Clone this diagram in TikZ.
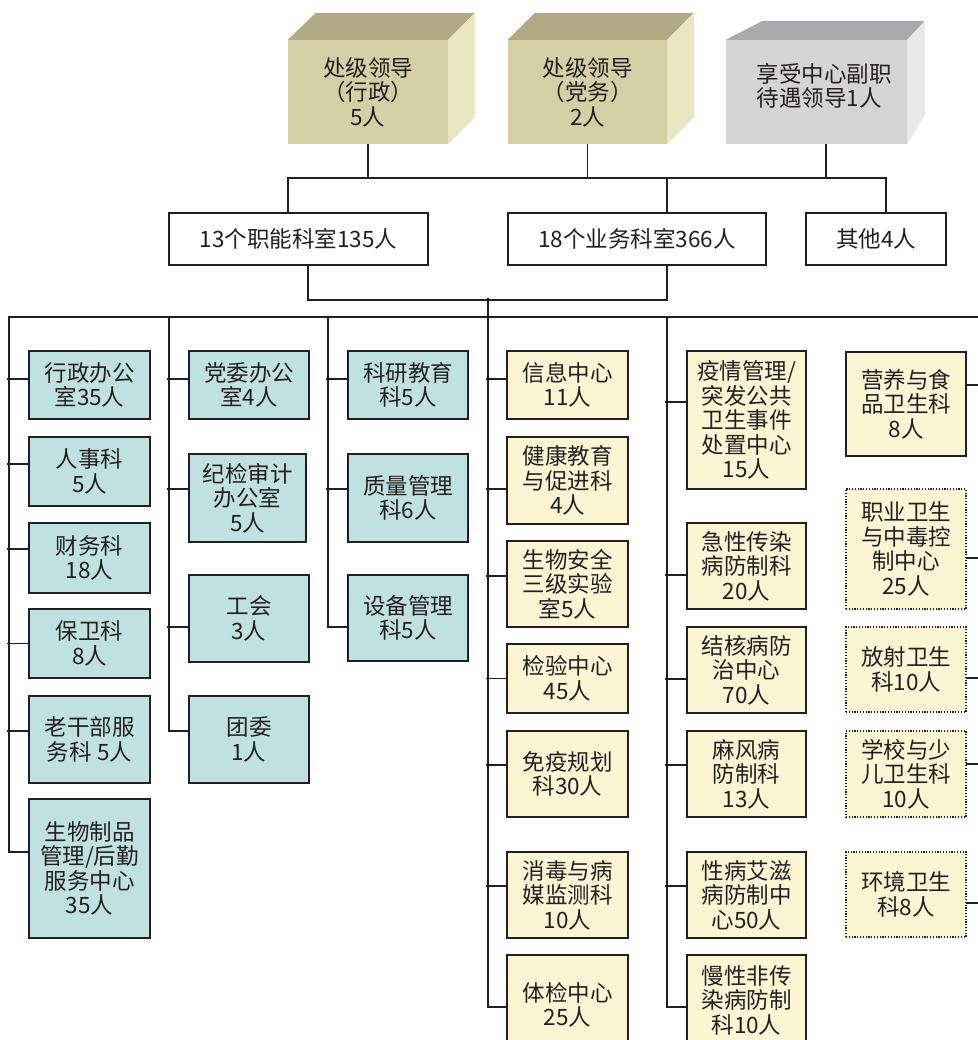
\documentclass[tikz,border=0pt]{standalone}
\usepackage{fontspec}
\setmainfont{Noto Sans CJK SC}
\usetikzlibrary{backgrounds}
\definecolor{ink}{HTML}{231F20}
\definecolor{tealf}{HTML}{BFE1E0}
\definecolor{yelf}{HTML}{FAF5D3}
\definecolor{olfront}{HTML}{D5CFA6}
\definecolor{oltop}{HTML}{B2AA85}
\definecolor{olside}{HTML}{EAE6C2}
\definecolor{grfront}{HTML}{D4D4D4}
\definecolor{grtop}{HTML}{A9AAAC}
\definecolor{grside}{HTML}{E9E9E9}
\begin{document}
\begin{tikzpicture}[x=1pt,y=-1pt,
  every node/.style={font=\fontsize{22.5}{24.5}\selectfont, text=ink, align=center, inner sep=0pt},
  tbox/.style={draw=ink, line width=2pt, fill=tealf},
  ybox/.style={draw=ink, line width=2pt, fill=yelf},
  dbox/.style={draw=ink, line width=1.4pt, dash pattern=on 1.2pt off 1.6pt, fill=yelf},
  mbox/.style={draw=ink, line width=1.6pt, fill=white},
  conn/.style={draw=ink, line width=1.8pt, line cap=rect},
]
\path[use as bounding box] (0,0) rectangle (977,1040);
\clip (0,0) rectangle (977,1040);

% ---- top 3D boxes
\node[fill=olfront, minimum width=160pt, minimum height=104pt] (t1) at (368,92) {处级领导\\（行政）\\5人};
\fill[oltop] (t1.north west) -- ++(28,-27) -- ++(159,0) -- (t1.north east) -- cycle;
\fill[olside] (t1.north east) -- ++(27,-27) -- ++(0,104) -- (t1.south east) -- cycle;

\node[fill=olfront, minimum width=159pt, minimum height=104pt] (t2) at (587.5,92) {处级领导\\（党务）\\2人};
\fill[oltop] (t2.north west) -- ++(27,-27) -- ++(159,0) -- (t2.north east) -- cycle;
\fill[olside] (t2.north east) -- ++(27,-27) -- ++(0,104) -- (t2.south east) -- cycle;

\node[fill=grfront, minimum width=181pt, minimum height=104pt] (t3) at (816.5,92) {};
\fill[grtop] (t3.north west) -- ++(37,-19) -- ++(162,0) -- (t3.north east) -- cycle;
\fill[grside] (t3.north east) -- ++(18,-19) -- ++(0,94) -- (t3.south east) -- cycle;
\node[align=left] (t3txt) at (824,86) {享受中心副职\\待遇领导1人};

% ---- second row
\node[mbox, minimum width=259pt, minimum height=52pt] (m1) at (298.5,239) {13个职能科室135人};
\node[mbox, minimum width=258pt, minimum height=52pt] (m2) at (637,239) {18个业务科室366人};
\node[mbox, minimum width=140pt, minimum height=52pt] (m3) at (876,239) {其他4人};

% ---- column 1
\node[tbox, minimum width=121pt, minimum height=68pt] (a1) at (89.5,385) {行政办公\\室35人};
\node[tbox, minimum width=121pt, minimum height=69pt] (a2) at (89.5,471.5) {人事科\\5人};
\node[tbox, minimum width=121pt, minimum height=70pt] (a3) at (89.5,558) {财务科\\18人};
\node[tbox, minimum width=121pt, minimum height=69pt] (a4) at (89.5,643.5) {保卫科\\8人};
\node[tbox, minimum width=121pt, minimum height=87pt] (a5) at (89.5,739.5) {老干部服\\务科 5人};
\node[tbox, minimum width=121pt, minimum height=139pt] (a6) at (89.5,868.5) {生物制品\\管理/后勤\\服务中心\\35人};

% ---- column 2
\node[tbox, minimum width=120pt, minimum height=68pt] (b1) at (249,385) {党委办公\\室4人};
\node[tbox, minimum width=117pt, minimum height=88pt] (b2) at (247.5,498) {纪检审计\\办公室\\5人};
\node[tbox, minimum width=120pt, minimum height=87pt] (b3) at (249,618.5) {工会\\3人};
\node[tbox, minimum width=120pt, minimum height=87pt] (b4) at (249,739.5) {团委\\1人};

% ---- column 3
\node[tbox, minimum width=120pt, minimum height=68pt] (c1) at (408,385) {科研教育\\科5人};
\node[tbox, minimum width=120pt, minimum height=88pt] (c2) at (408,498) {质量管理\\科6人};
\node[tbox, minimum width=120pt, minimum height=86pt] (c3) at (408,618) {设备管理\\科5人};

% ---- column 4
\node[ybox, minimum width=121pt, minimum height=68pt] (d1) at (567.5,385) {信息中心\\11人};
\node[ybox, minimum width=121pt, minimum height=87pt] (d2) at (567.5,480.5) {健康教育\\与促进科\\4人};
\node[ybox, minimum width=121pt, minimum height=86pt] (d3) at (567.5,584) {生物安全\\三级实验\\室5人};
\node[ybox, minimum width=121pt, minimum height=69pt] (d4) at (567.5,678.5) {检验中心\\45人};
\node[ybox, minimum width=121pt, minimum height=86pt] (d5) at (567.5,774) {免疫规划\\科30人};
\node[ybox, minimum width=121pt, minimum height=86pt] (d6) at (567.5,895) {消毒与病\\媒监测科\\10人};
\node[ybox, minimum width=121pt, minimum height=100pt] (d7) at (567.5,1005) {体检中心\\25人};

% ---- column 5
\node[ybox, minimum width=119pt, minimum height=138pt] (e1) at (746.5,420) {疫情管理/\\突发公共\\卫生事件\\处置中心\\15人};
\node[ybox, minimum width=119pt, minimum height=86pt] (e2) at (746.5,566) {急性传染\\病防制科\\20人};
\node[ybox, minimum width=119pt, minimum height=86pt] (e3) at (746.5,670) {结核病防\\治中心\\70人};
\node[ybox, minimum width=119pt, minimum height=86pt] (e4) at (746.5,774) {麻风病\\防制科\\13人};
\node[ybox, minimum width=119pt, minimum height=86pt] (e5) at (746.5,895) {性病艾滋\\病防制中\\心50人};
\node[ybox, minimum width=119pt, minimum height=90pt] (e6) at (746.5,1000) {慢性非传\\染病防制\\科10人};

% ---- column 6
\node[ybox, minimum width=120pt, minimum height=104pt] (f1) at (906,404) {营养与食\\品卫生科\\8人};
\node[dbox, minimum width=120pt, minimum height=120pt] (f2) at (906,549) {职业卫生\\与中毒控\\制中心\\25人};
\node[dbox, minimum width=120pt, minimum height=85pt] (f3) at (906,669.5) {放射卫生\\科10人};
\node[dbox, minimum width=120pt, minimum height=86pt] (f4) at (906,774) {学校与少\\儿卫生科\\10人};
\node[dbox, minimum width=120pt, minimum height=85pt] (f5) at (906,894.5) {环境卫生\\科8人};

\coordinate (busL) at (288,178);
\coordinate (busR) at (886,178);
\coordinate (j) at (488,299);
\coordinate (k1) at (9,317);
\coordinate (k2) at (169,317);
\coordinate (k3) at (328,317);
\coordinate (k4) at (488,317);
\coordinate (k5) at (667,317);
\coordinate (k6) at (990,317);

\begin{scope}[on background layer]
% top level
\draw[conn] (t1.south) -- (t1.south |- busL);
\draw[conn] (t2.south) -- (t2.south |- busL);
\draw[conn] ([xshift=9.5pt]t3.south) -- ([xshift=9.5pt]t3.south |- busL);
\draw[conn] ([xshift=-10.5pt]m1.north) |- (busR) -- ([xshift=10pt]m3.north);
\draw[conn] ([xshift=30pt]m2.north) -- ([xshift=30pt]m2.north |- busL);
% second level
\draw[conn] ([xshift=9.5pt]m1.south) -- ++(0,34) -| ([xshift=30pt]m2.south);
\draw[conn] (j) -- (k4);
\draw[conn] (k1) -- (k6);
% trunks
\draw[conn] (k1) |- ([yshift=16.5pt]a6.west);
\draw[conn] (k2) |- ([yshift=8.5pt]b4.west);
\draw[conn] (k3) |- ([yshift=-9pt]c3.west);
\draw[conn] (k4) |- ([yshift=-2pt]d7.west);
\draw[conn] (k5) |- ([yshift=-7pt]e6.west);
\draw[conn] (k6) |- ([yshift=-8.5pt]f5.east);
% stubs column 1
\draw[conn] ([yshift=6pt]a1.west) -- ++(-20,0);
\draw[conn] ([yshift=7.5pt]a2.west) -- ++(-20,0);
\draw[conn] ([yshift=9pt]a3.west) -- ++(-20,0);
\draw[conn] (a4.west) -- ++(-20,0);
\draw[conn] ([yshift=8.5pt]a5.west) -- ++(-20,0);
% column 2
\draw[conn] ([yshift=6pt]b1.west) -- ++(-20,0);
\draw[conn] ([yshift=9pt]b2.west) -- ++(-20,0);
\draw[conn] ([yshift=-8.5pt]b3.west) -- ++(-20,0);
% column 3
\draw[conn] ([yshift=6pt]c1.west) -- ++(-20,0);
\draw[conn] ([yshift=9pt]c2.west) -- ++(-20,0);
% column 4
\draw[conn] ([yshift=6pt]d1.west) -- ++(-19,0);
\draw[conn] ([yshift=-8.5pt]d2.west) -- ++(-19,0);
\draw[conn] ([yshift=8pt]d3.west) -- ++(-19,0);
\draw[conn] (d4.west) -- ++(-19,0);
\draw[conn] ([yshift=9pt]d5.west) -- ++(-19,0);
\draw[conn] ([yshift=9pt]d6.west) -- ++(-19,0);
% column 5
\draw[conn] ([yshift=18pt]e1.west) -- ++(-20,0);
\draw[conn] ([yshift=-9pt]e2.west) -- ++(-20,0);
\draw[conn] ([yshift=-9pt]e3.west) -- ++(-20,0);
\draw[conn] ([yshift=9pt]e4.west) -- ++(-20,0);
\draw[conn] ([yshift=9pt]e5.west) -- ++(-20,0);
% column 6
\draw[conn] ([yshift=19pt]f1.east) -- ++(20,0);
\draw[conn] ([yshift=-9pt]f2.east) -- ++(20,0);
\draw[conn] ([yshift=-8.5pt]f3.east) -- ++(20,0);
\draw[conn] ([yshift=10pt]f4.east) -- ++(20,0);
\end{scope}
\end{tikzpicture}
\end{document}
